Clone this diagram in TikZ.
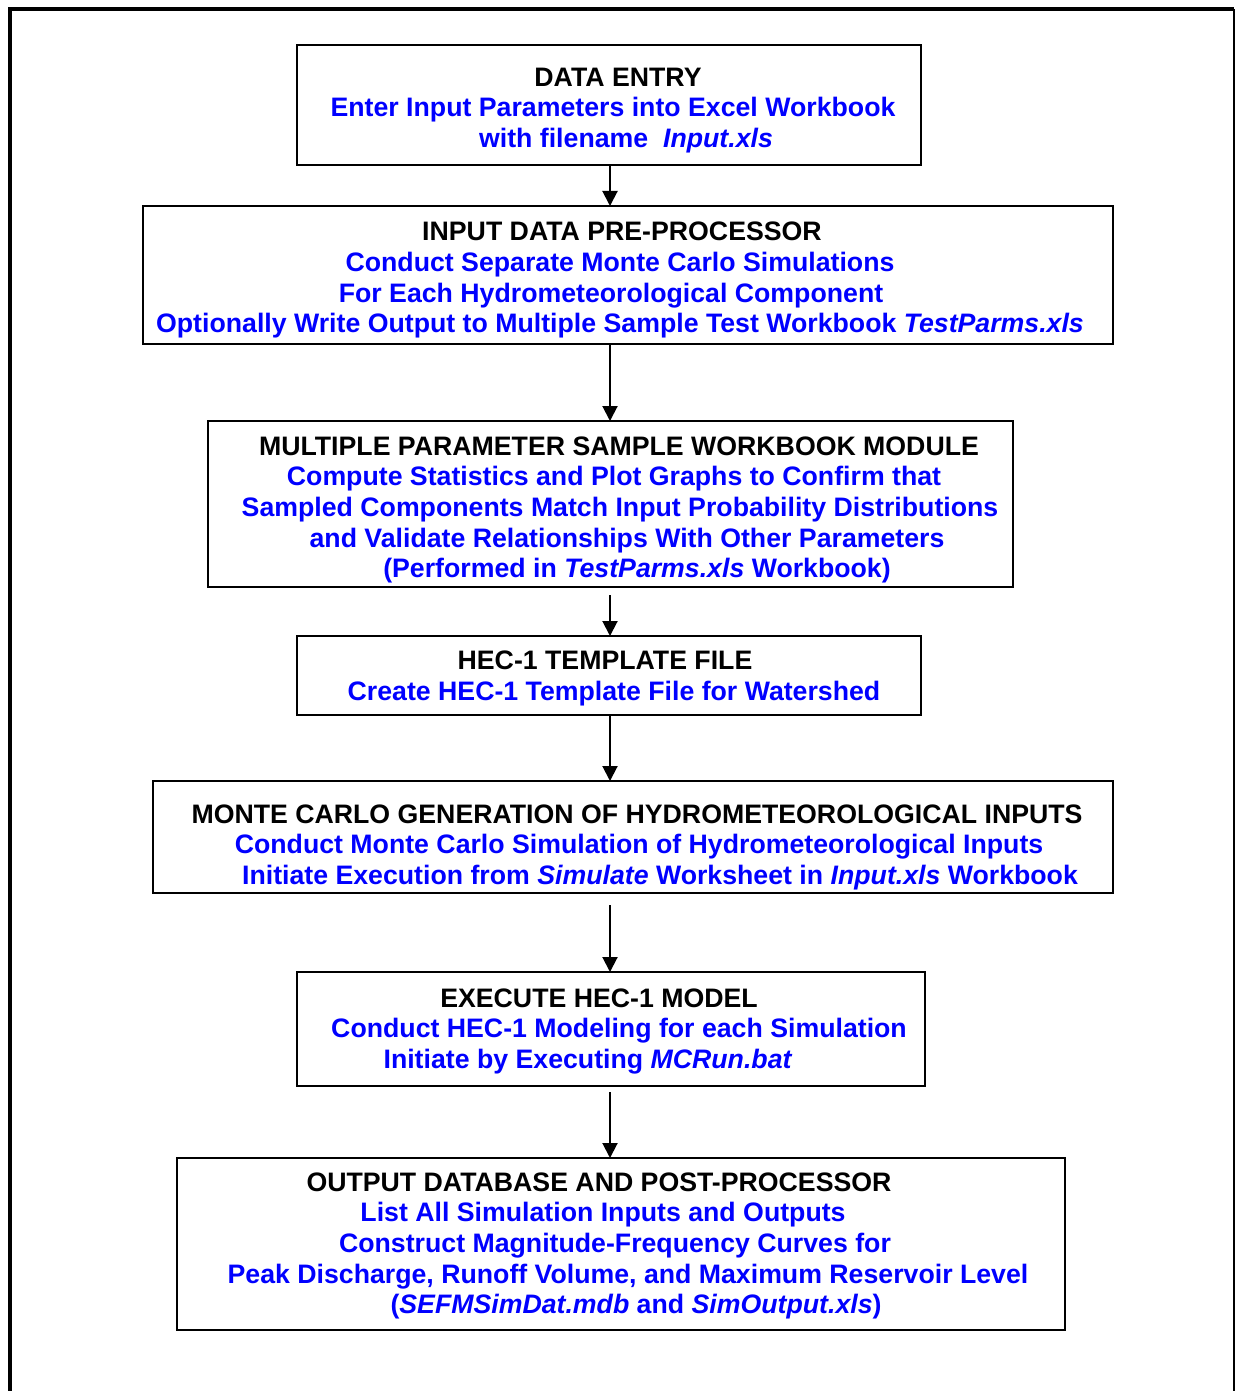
\documentclass[tikz,border=0pt]{standalone}
\usepackage{fontspec}
\setmainfont{Liberation Sans}
\usetikzlibrary{arrows.meta}
\definecolor{txtblue}{RGB}{0,0,255}
\begin{document}
\begin{tikzpicture}[x=1pt,y=-1pt,
  box/.style={draw=black,line width=2pt},
  ln/.style={anchor=base,inner sep=0pt,font=\fontsize{26.7}{31}\selectfont\bfseries},
  hd/.style={ln,text=black},
  bl/.style={ln,text=txtblue},
  arr/.style={draw=black,line width=2pt,-{Triangle[width=15pt,length=15pt]}}]
\useasboundingbox (0,0) rectangle (1236,1391);
% outer frame
\draw[line width=4pt] (10,1391) -- (10,9) -- (1234,9);
\draw[line width=2pt] (1234,9) -- (1234,1391);
% boxes
\draw[box] (297,45) rectangle (921,165); \coordinate (b1t) at (610,45); \coordinate (b1b) at (610,165);
\draw[box] (143,206) rectangle (1113,344); \coordinate (b2t) at (610,206); \coordinate (b2b) at (610,344);
\draw[box] (208,421) rectangle (1013,587); \coordinate (b3t) at (610,421); \coordinate (b3b) at (610,595);
\draw[box] (297,636) rectangle (921,715); \coordinate (b4t) at (610,636); \coordinate (b4b) at (610,715);
\draw[box] (153,781) rectangle (1113,893); \coordinate (b5t) at (610,781); \coordinate (b5b) at (610,905);
\draw[box] (297,972) rectangle (925,1086); \coordinate (b6t) at (610,972); \coordinate (b6b) at (610,1092);
\draw[box] (177,1158) rectangle (1065,1330); \coordinate (b7t) at (610,1158);
% arrows
\draw[arr] (b1b) -- (b2t);
\draw[arr] (b2b) -- (b3t);
\draw[arr] (b3b) -- (b4t);
\draw[arr] (b4b) -- (b5t);
\draw[arr] (b5b) -- (b6t);
\draw[arr] (b6b) -- (b7t);
% box 1
\node[hd] (t11) at (618,87) {DATA ENTRY};
\node[bl] (t12) at (613,117) {Enter Input Parameters into Excel Workbook};
\node[bl] (t13) at (626,148) {with filename\ \ \itshape Input.xls};
% box 2
\node[hd] (t21) at (622,240) {INPUT DATA PRE-PROCESSOR};
\node[bl] (t22) at (620,271) {Conduct Separate Monte Carlo Simulations};
\node[bl] (t23) at (611,302) {For Each Hydrometeorological Component};
\node[bl] (t24) at (620,332) {Optionally Write Output to Multiple Sample Test Workbook \textit{TestParms.xls}};
% box 3
\node[hd] (t31) at (619,455) {MULTIPLE PARAMETER SAMPLE WORKBOOK MODULE};
\node[bl] (t32) at (614,485) {Compute Statistics and Plot Graphs to Confirm that};
\node[bl] (t33) at (620,516) {Sampled Components Match Input Probability Distributions};
\node[bl] (t34) at (627,547) {and Validate Relationships With Other Parameters};
\node[bl] (t35) at (637,577) {(Performed in \textit{TestParms.xls} Workbook)};
% box 4
\node[hd] (t41) at (605,669) {HEC-1 TEMPLATE FILE};
\node[bl] (t42) at (614,700) {Create HEC-1 Template File for Watershed};
% box 5
\node[hd] (t51) at (637,823) {MONTE CARLO GENERATION OF HYDROMETEOROLOGICAL INPUTS};
\node[bl] (t52) at (639,853) {Conduct Monte Carlo Simulation of Hydrometeorological Inputs};
\node[bl] (t53) at (660,884) {Initiate Execution from \textit{Simulate} Worksheet in \textit{Input.xls} Workbook};
% box 6
\node[hd] (t61) at (599,1007) {EXECUTE HEC-1 MODEL};
\node[bl] (t62) at (619,1037) {Conduct HEC-1 Modeling for each Simulation};
\node[bl] (t63) at (588,1068) {Initiate by Executing \textit{MCRun.bat}};
% box 7
\node[hd] (t71) at (599,1191) {OUTPUT DATABASE AND POST-PROCESSOR};
\node[bl] (t72) at (603,1221) {List All Simulation Inputs and Outputs};
\node[bl] (t73) at (615,1252) {Construct Magnitude-Frequency Curves for};
\node[bl] (t74) at (628,1283) {Peak Discharge, Runoff Volume, and Maximum Reservoir Level};
\node[bl] (t75) at (636,1313) {(\textit{SEFMSimDat.mdb} and \textit{SimOutput.xls})};
\end{tikzpicture}
\end{document}
